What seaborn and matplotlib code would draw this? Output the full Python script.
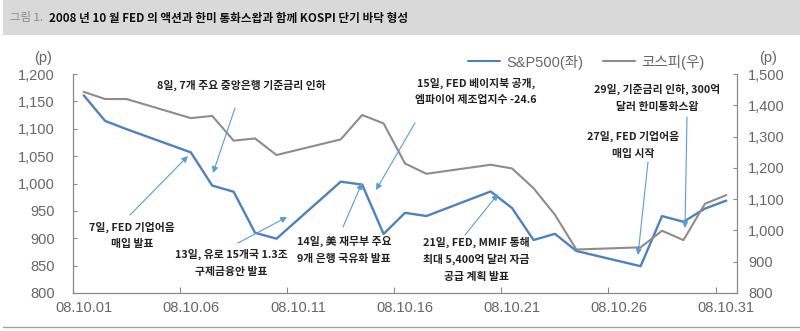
import matplotlib
matplotlib.use("Agg")
import matplotlib.pyplot as plt
import numpy as np
import pandas as pd
import seaborn as sns
from matplotlib.lines import Line2D
from matplotlib.patches import Rectangle, FancyArrowPatch

# Trading days of October 2008 and closing levels
dates = ["2008-10-01", "2008-10-02", "2008-10-03", "2008-10-06", "2008-10-07",
         "2008-10-08", "2008-10-09", "2008-10-10", "2008-10-13", "2008-10-14",
         "2008-10-15", "2008-10-16", "2008-10-17", "2008-10-20", "2008-10-21",
         "2008-10-22", "2008-10-23", "2008-10-24", "2008-10-27", "2008-10-28",
         "2008-10-29", "2008-10-30", "2008-10-31"]
sp500 = [1161.06, 1114.28, 1099.23, 1056.89, 996.23, 984.94, 909.92, 899.22,
         1003.35, 998.01, 907.84, 946.43, 940.55, 985.40, 955.05, 896.78,
         908.11, 876.77, 848.92, 940.51, 930.09, 954.09, 968.75]
kospi = [1443, 1420, 1420, 1359, 1366, 1287, 1294, 1241, 1291, 1369, 1342,
         1214, 1181, 1210, 1198, 1135, 1050, 939, 946, 999, 969, 1085, 1113]

left_ticks = [800, 850, 900, 950, 1000, 1050, 1100, 1150, 1200]
right_ticks = [800, 900, 1000, 1100, 1200, 1300, 1400, 1500]
date_labels = ["08.10.01", "08.10.06", "08.10.11", "08.10.16",
               "08.10.21", "08.10.26", "08.10.31"]
series_names = ["S&P500(좌)", "코스피(우)"]
title_prefix = "그림 1."
title_text = "2008 년 10 월 FED 의 액션과 한미 통화스왑과 함께 KOSPI 단기 바닥 형성"

notes = [
    (["8일, 7개 주요 중앙은행 기준금리 인하"], 241, 85, (235, 108), (213, 173)),
    (["15일, FED 베이지북 공개,", "엠파이어 제조업지수 -24.6"], 476, 83, (415, 123), (376, 190)),
    (["29일, 기준금리 인하, 300억", "달러 한미통화스왑"], 657, 89, (687, 117), (685, 228)),
    (["27일, FED 기업어음", "매입 시작"], 633, 136, (648, 162), (638, 255)),
    (["7일, FED 기업어음", "매입 발표"], 132, 227, (130, 215), (188, 156)),
    (["13일, 유로 15개국 1.3조", "구제금융안 발표"], 231, 254, (238, 243), (287, 217)),
    (["14일, 美 재무부 주요", "9개 은행 국유화 발표"], 344, 241, (343, 227), (362, 183)),
    (["21일, FED, MMIF 통해", "최대 5,400억 달러 자금", "공급 계획 발표"], 476, 242, (465, 235), (498, 194)),
]

sns.set_theme(style="white")
plt.rcParams["font.family"] = ["Liberation Sans", "Noto Sans CJK KR", "DejaVu Sans"]

W, H = 800, 331


def px(x, y):
    return (x / W, 1 - y / H)


df = pd.DataFrame({"date": pd.to_datetime(dates), "sp500": sp500, "kospi": kospi})
df["day"] = df["date"].dt.day

fig = plt.figure(figsize=(W / 100, H / 100), dpi=100)
fig.patch.set_facecolor("white")

# title band
fig.patches.append(Rectangle(px(3, 35), 797 / W, 35 / H, transform=fig.transFigure,
                             facecolor="#d9d9d9", edgecolor="none", zorder=0))
fig.text(*px(10, 18), title_prefix, ha="left", va="center", fontsize=8.2,
         color="#8a8a8a", family=["Noto Sans CJK KR"])
fig.text(*px(49, 18), title_text, ha="left", va="center", fontsize=8.4,
         color="#111111", family=["Noto Sans CJK KR"], weight="bold")
fig.add_artist(Line2D([3 / W, 1], [1 - 327 / H] * 2, transform=fig.transFigure,
                      color="#a0a0a0", lw=1.0))

x0, x1, y0, y1 = 73, 737, 74, 293
ax = fig.add_axes([x0 / W, 1 - y1 / H, (x1 - x0) / W, (y1 - y0) / H])
blue, grey = "#4f81bd", "#8c8c8c"
sns.lineplot(data=df, x="day", y="sp500", ax=ax, color=blue, lw=1.7)
ax2 = ax.twinx()
sns.lineplot(data=df, x="day", y="kospi", ax=ax2, color=grey, lw=1.5)

ax.set_xlim(0.5, 31.5)
ax.set_ylim(800, 1200)
ax2.set_ylim(800, 1500)
for a in (ax, ax2):
    a.set_xlabel("")
    a.set_ylabel("")
    a.set_facecolor("none")
    a.grid(False)
    for s in a.spines.values():
        s.set_color("#8a8a8a")
        s.set_linewidth(0.9)
    a.spines["top"].set_visible(False)
ax.spines["right"].set_visible(False)
ax2.spines["left"].set_visible(False)
ax2.spines["bottom"].set_visible(False)

tick_col = "#666666"
ax.set_yticks(left_ticks)
ax.set_yticklabels([f"{v:,}" for v in left_ticks])
ax2.set_yticks(right_ticks)
ax2.set_yticklabels([f"{v:,}" for v in right_ticks])
ax.tick_params(axis="y", direction="in", length=3, width=0.8, color="#8a8a8a",
               pad=13, labelsize=10.5, labelcolor=tick_col, left=True)
ax2.tick_params(axis="y", direction="in", length=3, width=0.8, color="#8a8a8a",
                pad=8, labelsize=10.5, labelcolor=tick_col, right=True)

# ticks at day boundaries, labels centred on the day
ax.set_xticks(np.arange(0.5, 31, 5))
ax.set_xticklabels([])
ax.set_xticks(np.arange(1, 32, 5), minor=True)
ax.set_xticklabels(date_labels, minor=True)
ax.tick_params(axis="x", which="major", direction="in", length=4, width=0.8,
               color="#8a8a8a", bottom=True)
ax.tick_params(axis="x", which="minor", length=0, pad=6, labelsize=10.5,
               labelcolor=tick_col, bottom=True)

fig.text(*px(43, 58), "(p)", ha="center", va="center", fontsize=10.5, color=tick_col)
fig.text(*px(768, 58), "(p)", ha="center", va="center", fontsize=10.5, color=tick_col)

handles = [Line2D([], [], color=blue, lw=1.5), Line2D([], [], color=grey, lw=1.5)]
fig.legend(handles, series_names, loc="center left", bbox_to_anchor=px(468, 62),
           ncol=2, frameon=False, fontsize=10.5, labelcolor=tick_col,
           handlelength=2.2, handletextpad=0.4, columnspacing=1.4, borderpad=0,
           borderaxespad=0)

arrow_col = "#5b9bd5"
for lines, cx, cy, start, end in notes:
    for i, line in enumerate(lines):
        fig.text(*px(cx, cy + 17.5 * i), line, ha="center", va="center",
                 fontsize=7.8, color="#222222", weight="bold",
                 family=["Noto Sans CJK KR"])
    fig.add_artist(FancyArrowPatch(
        px(*start), px(*end), transform=fig.transFigure,
        arrowstyle="-|>", mutation_scale=9, color=arrow_col, lw=0.8,
        shrinkA=0, shrinkB=0))

fig.savefig("out.png", dpi=100)
